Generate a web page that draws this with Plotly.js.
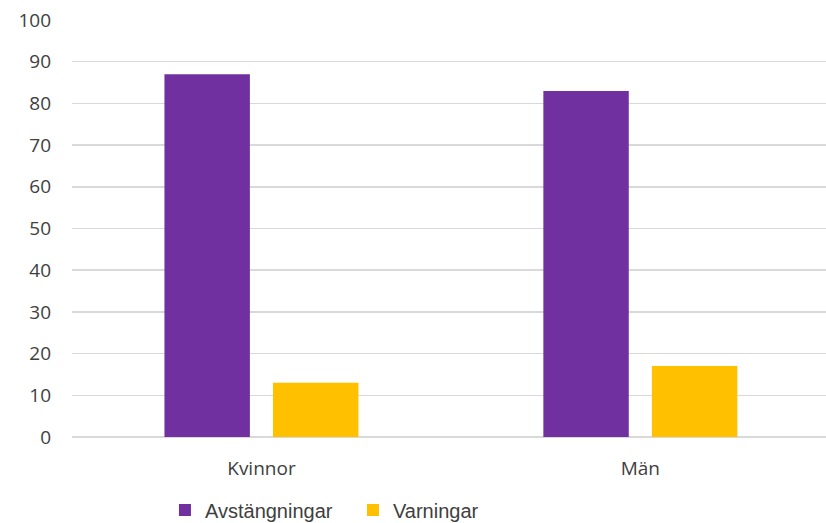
<!DOCTYPE html>
<html>
<head>
<meta charset="utf-8">
<script src="https://cdn.plot.ly/plotly-3.0.1.min.js"></script>
<style>html,body{margin:0;padding:0;background:#fff;}#chart{width:826px;height:523px;}</style>
</head>
<body>
<div id="chart"></div>
<script>
const categories = ["Kvinnor", "Män"];
const avstangningar = [87, 83];
const varningar = [13, 17];
const seriesNames = ["Avstängningar", "Varningar"];

const data = [
  {type: "bar", x: categories, y: avstangningar, name: seriesNames[0], marker: {color: "#7030A0"}},
  {type: "bar", x: categories, y: varningar, name: seriesNames[1], marker: {color: "#FFC000"}}
];

const layout = {
  width: 826, height: 523,
  margin: {l: 72, r: 0, t: 20, b: 86, autoexpand: false},
  paper_bgcolor: "#fff", plot_bgcolor: "#fff",
  barmode: "group", bargap: 0.427, bargroupgap: 0.213,
  font: {family: "Open Sans, sans-serif", color: "#404040", size: 20},
  xaxis: {
    type: "category", range: [-0.5, 1.49], showgrid: false, zeroline: false,
    showline: false, ticks: "", ticklabelstandoff: 18,
    tickfont: {family: "Open Sans, sans-serif", size: 19, color: "#404040"}
  },
  yaxis: {
    range: [0, 100], dtick: 10, showgrid: true, gridcolor: "#d9d9d9", gridwidth: 1.5,
    zeroline: true, zerolinecolor: "#d9d9d9", zerolinewidth: 1.5, showline: false, ticks: "",
    ticklabelstandoff: 20,
    tickfont: {family: "Open Sans, sans-serif", size: 19, color: "#404040"}
  },
  showlegend: true,
  legend: {
    orientation: "h", x: 0.1233, xanchor: "left", y: -0.175, yanchor: "middle",
    font: {family: "Liberation Sans, Arial, sans-serif", size: 20, color: "#404040"},
    itemwidth: 30, tracegroupgap: 0, entrywidth: 143, entrywidthmode: "pixels"
  }
};

Plotly.newPlot("chart", data, layout, {displayModeBar: false, staticPlot: true});
</script>
</body>
</html>
